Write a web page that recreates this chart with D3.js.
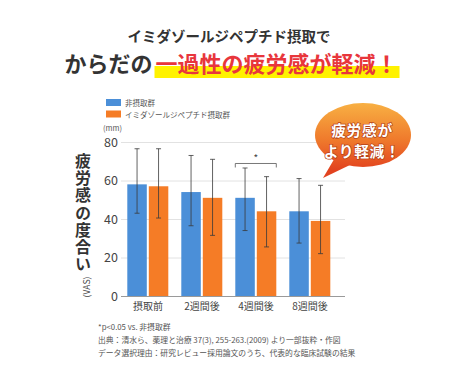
<!DOCTYPE html>
<html>
<head>
  <meta charset="UTF-8">
  <title>イミダゾールジペプチド 疲労感</title>
  <style>
    body { margin: 0; background: #fff; }
    svg text { font-family: "Noto Sans CJK JP", "Noto Sans", sans-serif; }
  </style>
</head>
<body>
  <div class="graph"></div>
  <script src="https://d3js.org/d3.v7.min.js"></script>
  <script>

    /// data (VAS, mm)
    var periods = ["摂取前", "2週間後", "4週間後", "8週間後"];
    var groups = ["非摂取群", "イミダゾールジペプチド摂取群"];
    var controlMean = [58, 54, 51, 44];
    var controlHigh = [76.5, 73, 66.5, 61];
    var controlLow = [43, 36.5, 34, 27.5];
    var imidMean = [57, 51, 44, 39];
    var imidHigh = [76.5, 71, 62, 57.5];
    var imidLow = [40.5, 31.5, 25.5, 22];
    var yTicks = [0, 20, 40, 60, 80];
    var sigIndex = 2;   // *p<0.05 at 4週間後

    var colors = ["#4b8fd8", "#f57c26"];
    var notes = [
      "*p<0.05 vs. 非摂取群",
      "出典：清水ら、薬理と治療 37(3), 255-263.(2009) より一部抜粋・作図",
      "データ選択理由：研究レビュー採用論文のうち、代表的な臨床試験の結果"
    ];

    // rows for the bars
    var rows = [];
    periods.forEach(function(p, i) {
      rows.push({period: p, group: groups[0], mean: controlMean[i], hi: controlHigh[i], lo: controlLow[i]});
      rows.push({period: p, group: groups[1], mean: imidMean[i], hi: imidHigh[i], lo: imidLow[i]});
    });

    /// main
    var width = 450, height = 370;
    var svg = d3.select(".graph").append("svg")
      .attr("width", width)
      .attr("height", height);

    var defs = svg.append("defs");
    var grad = defs.append("linearGradient")
      .attr("id", "bubbleGrad")
      .attr("gradientUnits", "userSpaceOnUse")
      .attr("x1", 0).attr("y1", 103).attr("x2", 0).attr("y2", 170);
    grad.append("stop").attr("offset", "0%").attr("stop-color", "#f8b043");
    grad.append("stop").attr("offset", "55%").attr("stop-color", "#ef7a2c");
    grad.append("stop").attr("offset", "100%").attr("stop-color", "#e2431f");

    // headline (both lines in one text element)
    var hlLayer = svg.append("g");
    var head = svg.append("text")
      .attr("text-anchor", "middle")
      .attr("font-weight", "bold");
    head.append("tspan")
      .attr("x", 229).attr("y", 41.5)
      .attr("font-size", 14.5).attr("fill", "#333")
      .text("イミダゾールジペプチド摂取で");
    head.append("tspan")
      .attr("x", 231).attr("y", 71.5)
      .attr("font-size", 22).attr("fill", "#333")
      .text("からだの");
    head.append("tspan")
      .attr("dx", 3)
      .attr("font-size", 22).attr("fill", "#e8363c")
      .text("一過性の疲労感が軽減！");

    var nChars = head.node().getNumberOfChars();
    var hlStart = head.node().getStartPositionOfChar(18).x;
    var hlEnd = head.node().getEndPositionOfChar(nChars - 1).x;
    hlLayer.append("rect")
      .attr("x", hlStart - 1).attr("y", 66)
      .attr("width", hlEnd - hlStart + 3).attr("height", 12)
      .attr("fill", "#fff200");

    // legend
    var legend = svg.append("g").attr("class", "legend");
    groups.forEach(function(g, i) {
      legend.append("rect")
        .attr("x", 106).attr("y", 99 + i * 11.5)
        .attr("width", 15).attr("height", 7)
        .attr("fill", colors[i]);
      legend.append("text")
        .attr("x", 125).attr("y", 106 + i * 11.5)
        .attr("font-size", 7.5).attr("fill", "#555")
        .text(g);
    });

    // scales
    var x = d3.scaleBand().domain(periods).range([121, 337]);
    var xInner = d3.scaleBand().domain(groups).range([6.3, 47.3]).paddingInner(0.093);
    var y = d3.scaleLinear().domain([0, 80]).range([296, 142]);
    var color = d3.scaleOrdinal().domain(groups).range(colors);

    // y axis with gridlines
    var yAxis = svg.append("g")
      .attr("transform", "translate(121,0)")
      .call(d3.axisLeft(y).tickValues(yTicks).tickSizeInner(-224).tickSizeOuter(0).tickPadding(3));
    yAxis.select(".domain").remove();
    yAxis.selectAll(".tick line").attr("stroke", "#e2e2e2");
    yAxis.selectAll(".tick").filter(function(d) { return d === 0; })
      .select("line").attr("stroke", "#9a9a9a");
    yAxis.selectAll(".tick text")
      .attr("font-size", 12.5).attr("fill", "#444")
      .attr("font-family", "'Noto Sans', sans-serif");

    svg.append("text")
      .attr("x", 103).attr("y", 131)
      .attr("font-size", 7.5).attr("fill", "#555")
      .text("(mm)");

    // x axis labels
    var xAxis = svg.append("g")
      .attr("transform", "translate(0,296)")
      .call(d3.axisBottom(x).tickSize(0).tickPadding(7));
    xAxis.select(".domain").remove();
    xAxis.selectAll(".tick text").attr("font-size", 10).attr("fill", "#444");

    // bars
    var bars = svg.append("g").attr("class", "bars");
    bars.selectAll("rect")
      .data(rows)
      .enter().append("rect")
        .attr("x", function(d) { return x(d.period) + xInner(d.group); })
        .attr("y", function(d) { return y(d.mean); })
        .attr("width", xInner.bandwidth())
        .attr("height", function(d) { return y(0) - y(d.mean); })
        .attr("fill", function(d) { return color(d.group); });

    // error bars
    var err = svg.append("g").attr("class", "errors")
      .attr("stroke", "#3a3a3a").attr("stroke-width", 0.8);
    rows.forEach(function(d) {
      var cx = x(d.period) + xInner(d.group) + xInner.bandwidth() / 2;
      err.append("line").attr("x1", cx).attr("x2", cx).attr("y1", y(d.hi)).attr("y2", y(d.lo));
      err.append("line").attr("x1", cx - 2.5).attr("x2", cx + 2.5).attr("y1", y(d.hi)).attr("y2", y(d.hi));
      err.append("line").attr("x1", cx - 2.5).attr("x2", cx + 2.5).attr("y1", y(d.lo)).attr("y2", y(d.lo));
    });

    // significance bracket
    var p = periods[sigIndex];
    var bx1 = x(p) + xInner(groups[0]);
    var bx2 = x(p) + xInner(groups[1]) + xInner.bandwidth();
    var by = y(Math.max(controlHigh[sigIndex], imidHigh[sigIndex])) - 4.5;
    svg.append("path")
      .attr("d", "M" + bx1 + "," + (by + 4) + "V" + by + "H" + bx2 + "V" + (by + 4))
      .attr("fill", "none").attr("stroke", "#555").attr("stroke-width", 0.8);
    svg.append("text")
      .attr("x", (bx1 + bx2) / 2).attr("y", by - 1)
      .attr("text-anchor", "middle")
      .attr("font-size", 10).attr("fill", "#444")
      .text("*");

    // y axis title, written vertically
    svg.append("text")
      .attr("x", 83).attr("y", 153)
      .style("writing-mode", "vertical-rl")
      .attr("font-size", 16).attr("font-weight", "bold")
      .attr("letter-spacing", 1.2)
      .attr("fill", "#333")
      .text("疲労感の度合い");
    svg.append("text")
      .attr("transform", "translate(86,287) rotate(-90)")
      .attr("text-anchor", "middle")
      .attr("dominant-baseline", "central")
      .attr("font-size", 8.5).attr("fill", "#444")
      .text("(VAS)");

    // speech bubble
    var bubble = svg.append("g").attr("class", "bubble");
    bubble.append("path")
      .attr("d", "M336,156 L323,178 L352,164 Z")
      .attr("fill", "url(#bubbleGrad)");
    bubble.append("ellipse")
      .attr("cx", 363).attr("cy", 135).attr("rx", 48).attr("ry", 32)
      .attr("fill", "url(#bubbleGrad)");
    var bubbleText = bubble.append("text")
      .attr("text-anchor", "middle")
      .attr("font-size", 14.8).attr("font-weight", "bold")
      .attr("fill", "#fff")
      .attr("stroke", "#b5421a").attr("stroke-width", 1.4)
      .attr("paint-order", "stroke");
    ["疲労感が", "より軽減！"].forEach(function(t, i) {
      bubbleText.append("tspan")
        .attr("x", 362).attr("y", 135.5 + i * 21.6)
        .attr("letter-spacing", 0.6)
        .text(t);
    });

    // notes
    svg.append("g").selectAll("text")
      .data(notes)
      .enter().append("text")
        .attr("x", 98)
        .attr("y", function(d, i) { return [330, 343, 356][i]; })
        .attr("font-size", 7.8).attr("fill", "#555")
        .text(function(d) { return d; });

  </script>
</body>
</html>
